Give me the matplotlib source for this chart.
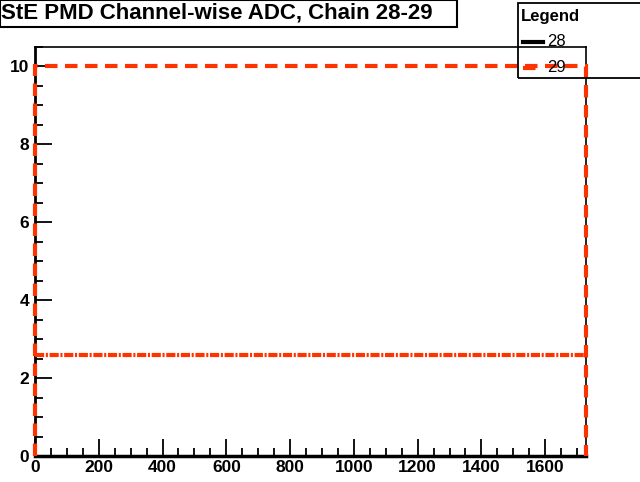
import matplotlib
matplotlib.use("Agg")
import matplotlib.pyplot as plt
from matplotlib.patches import Rectangle
from matplotlib.lines import Line2D
from matplotlib.ticker import MultipleLocator

plt.rcParams["font.family"] = ["Liberation Sans", "DejaVu Sans"]
plt.rcParams["font.weight"] = "bold"

# histogram content (one bin spanning all channels)
bin_edges = [0, 1728]
chain28_counts = [0]
chain29_counts = [10]
chain29_mean = 2.6
legend_labels = ["28", "29"]
title = "StE PMD Channel-wise ADC, Chain 28-29"

red = "#ff3300"
dashed = (0, (3, 1.8))

fig = plt.figure(figsize=(6.4, 4.82), dpi=100)
ax = fig.add_axes([35 / 640, 26 / 482, 551 / 640, 409 / 482])

ax.stairs(chain28_counts, bin_edges, color="black", lw=2)
ax.stairs(chain29_counts, bin_edges, color=red, lw=3, ls=dashed,
          baseline=0, clip_on=False, zorder=4)
ax.plot([bin_edges[0], bin_edges[-1]], [chain29_mean, chain29_mean],
        color=red, lw=3, ls=(0, (2.2, 0.4, 0.5, 0.4)), zorder=4)

ax.set_xlim(0, 1728)
ax.set_ylim(0, 10.5)
ax.xaxis.set_major_locator(MultipleLocator(200))
ax.xaxis.set_minor_locator(MultipleLocator(50))
ax.yaxis.set_major_locator(MultipleLocator(2))
ax.yaxis.set_minor_locator(MultipleLocator(0.5))
ax.tick_params(which="both", direction="in")
ax.tick_params(which="major", length=12, width=1.3, labelsize=12.5)
ax.tick_params(which="minor", length=6, width=1.3)
ax.tick_params(axis="x", pad=3)
ax.tick_params(axis="y", pad=4)
for lab in ax.get_xticklabels() + ax.get_yticklabels():
    lab.set_fontweight("bold")
ax.spines["left"].set_linewidth(2)
ax.spines["bottom"].set_linewidth(2.5)
ax.spines["top"].set_linewidth(1.2)
ax.spines["right"].set_linewidth(1.2)

# title box
fig.patches.append(Rectangle((0, 1 - 27 / 482), 457 / 640, 27 / 482,
                             transform=fig.transFigure, fill=True, fc="white",
                             ec="black", lw=1.5, zorder=5))
fig.text(1 / 640, 1 - 13 / 482, title, fontsize=16, fontweight="bold",
         va="center", ha="left", zorder=6)

# legend box
fig.patches.append(Rectangle((518 / 640, 1 - 78 / 482), 130 / 640, 75 / 482,
                             transform=fig.transFigure, fill=False,
                             ec="black", lw=1.3, zorder=5))
fig.text(521 / 640, 1 - 16 / 482, "Legend", fontsize=12, fontweight="bold",
         va="center", ha="left", zorder=6)
ys = [42, 68]
styles = [dict(color="black", lw=3, ls="-"),
          dict(color=red, lw=3, ls=dashed)]
for lab, y, st in zip(legend_labels, ys, styles):
    fig.lines.append(Line2D([523 / 640, 543 / 640], [1 - y / 482] * 2,
                            transform=fig.transFigure, zorder=6, **st))
    fig.text(547 / 640, 1 - y / 482, lab, fontsize=12, fontweight="normal",
             va="center", ha="left", zorder=6)

fig.savefig("out.png", dpi=100)
